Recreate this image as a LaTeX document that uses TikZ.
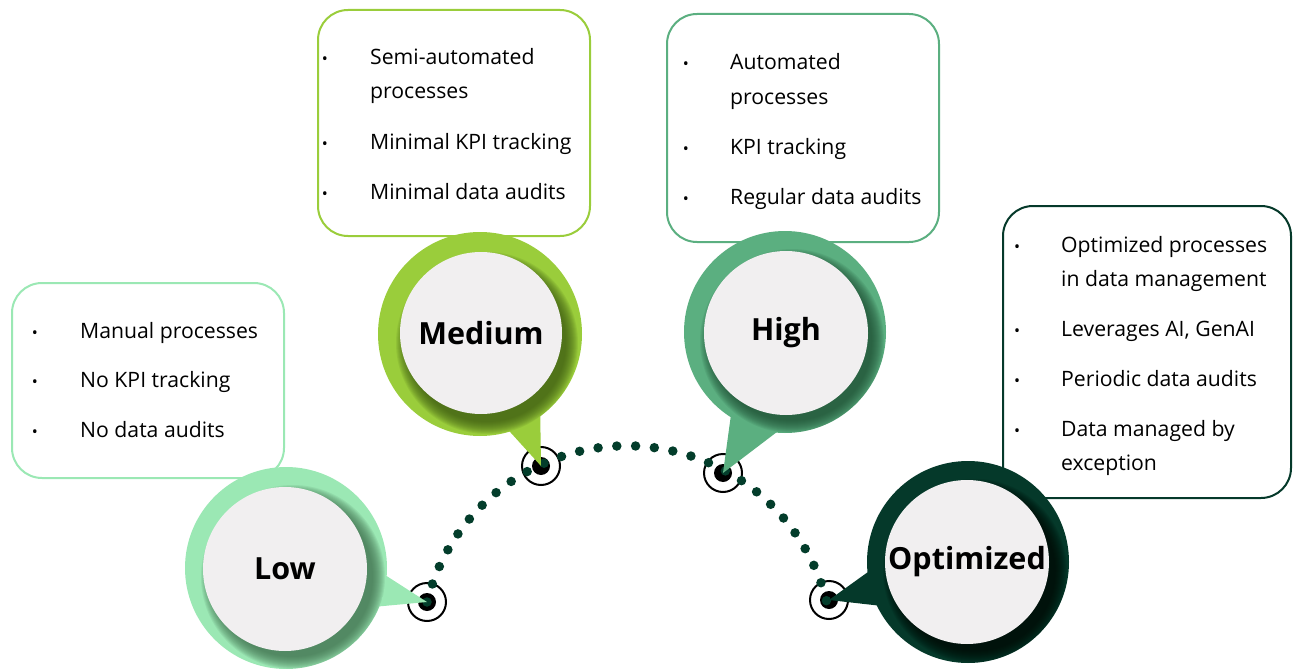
\documentclass[tikz,border=0pt]{standalone}
\usepackage{fontspec}
\setmainfont{Open Sans}
\usetikzlibrary{calc}
\definecolor{lowc}{HTML}{9BE8B4}
\definecolor{lowsh}{HTML}{3F6E4E}
\definecolor{medc}{HTML}{9ACD3B}
\definecolor{medsh}{HTML}{3D5B12}
\definecolor{highc}{HTML}{5BAF80}
\definecolor{highsh}{HTML}{1F4F34}
\definecolor{optc}{HTML}{05392A}
\definecolor{optsh}{HTML}{000A05}
\definecolor{innerc}{HTML}{F1EFF0}
\definecolor{dotc}{HTML}{033D2B}
\tikzset{
  box/.style={draw, line width=2pt, rounded corners=30pt, fill=white, inner sep=0pt},
  item/.style={anchor=base west, inner sep=0pt, font=\fontsize{21.2}{25}\selectfont},
  bul/.style={anchor=base, inner sep=0pt, font=\fontsize{16}{18}\selectfont},
  lbl/.style={circle, fill=innerc, inner sep=0pt, text=black, font=\bfseries\fontsize{30.5}{36}\selectfont},
  dotline/.style={dotc, line width=9.5pt, line cap=round, dash pattern=on 0pt off 18.8pt},
  markring/.style={circle, draw=black, line width=2pt, minimum size=38pt, inner sep=0pt},
  markdot/.style={circle, fill=black, minimum size=18pt, inner sep=0pt},
}
\newcommand\shadowring[4]{% center, outer r, shadow colour, inner r
  \begin{scope}
    \clip #1 circle[radius=#2];
    \foreach \rr in {10,9,...,-2}
      \fill[#3, opacity=0.1] ($#1+(7,9)$) circle[radius=#4+\rr];
  \end{scope}}
\begin{document}
\begin{tikzpicture}[x=1pt, y=-1pt]
\useasboundingbox (0,0) rectangle (1294,669);

% ---------- boxes ----------
\node[box, draw=lowc, minimum width=272pt, minimum height=195pt] (lowbox) at (148,380.5) {};
\node[box, draw=medc, minimum width=272pt, minimum height=226pt] (medbox) at (454,123) {};
\node[box, draw=highc, minimum width=272pt, minimum height=228pt] (highbox) at (803,128) {};
\node[box, draw=optc, minimum width=288pt, minimum height=292pt] (optbox) at (1147,352) {};

% ---------- box texts ----------
\node[bul] (lb1) at (35,338) {•};
\node[item] (lt1) at (80,338) {Manual processes};
\node[bul] (lb2) at (35,387) {•};
\node[item] (lt2) at (80,387) {No KPI tracking};
\node[bul] (lb3) at (35,437) {•};
\node[item] (lt3) at (80,437) {No data audits};

\node[bul] (mb1) at (325,65) {•};
\node[item] (mt1) at (370,65) {Semi-automated};
\node[item] (mt1b) at (370,99) {processes};
\node[bul] (mb2) at (325,149) {•};
\node[item] (mt2) at (370,149) {Minimal KPI tracking};
\node[bul] (mb3) at (325,199) {•};
\node[item] (mt3) at (370,199) {Minimal data audits};

\node[bul] (hb1) at (686,70) {•};
\node[item] (ht1) at (730,70) {Automated};
\node[item] (ht1b) at (730,104) {processes};
\node[bul] (hb2) at (686,154) {•};
\node[item] (ht2) at (730,154) {KPI tracking};
\node[bul] (hb3) at (686,204) {•};
\node[item] (ht3) at (730,204) {Regular data audits};

\node[bul] (ob1) at (1017,252) {•};
\node[item] (ot1) at (1061,252) {Optimized processes};
\node[item] (ot1b) at (1061,286) {in data management};
\node[bul] (ob2) at (1017,336) {•};
\node[item] (ot2) at (1061,336) {Leverages AI, GenAI};
\node[bul] (ob3) at (1017,386) {•};
\node[item] (ot3) at (1061,386) {Periodic data audits};
\node[bul] (ob4) at (1017,436) {•};
\node[item] (ot4) at (1061,436) {Data managed by};
\node[item] (ot4b) at (1061,470) {exception};

% ---------- markers and dotted path ----------
\node[markring] (m1) at (427,602) {};
\node[markdot] (d1) at (m1) {};
\node[markring] (m2) at (541,466) {};
\node[markdot] (d2) at (m2) {};
\node[markring] (m3) at (723,473) {};
\node[markdot] (d3) at (m3) {};
\node[markring] (m4) at (829,600) {};
\node[markdot] (d4) at (m4) {};
\draw[dotline] (m1.center) arc[start angle=166, end angle=14, radius=206pt];

% ---------- Low ----------
\fill[lowc] (340,546) -- (m1.center) -- (340,610) -- cycle;
\fill[lowc] (286,568) circle[radius=101];
\shadowring{(286,568)}{101}{lowsh}{82}
\node[lbl, minimum size=164pt] (low) at (285,569) {Low};

% ---------- Medium ----------
\fill[medc] (481,400) -- (m2.center) -- (540,400) -- cycle;
\fill[medc] (480,334) circle[radius=102];
\shadowring{(480,334)}{102}{medsh}{81}
\node[lbl, minimum size=162pt] (med) at (481,333) {Medium};

% ---------- High ----------
\fill[highc] (733,400) -- (m3.center) -- (819,400) -- cycle;
\fill[highc] (785,332) circle[radius=101];
\shadowring{(785,332)}{101}{highsh}{82}
\node[lbl, minimum size=164pt] (high) at (786,333) {High};

% ---------- Optimized ----------
\fill[optc] (900,549) -- (m4.center) -- (900,608) -- cycle;
\fill[optc] (968,562) circle[radius=101];
\shadowring{(968,562)}{101}{optsh}{82}
\node[lbl, minimum size=164pt] (opt) at (967,562) {Optimized};
\end{tikzpicture}
\end{document}
